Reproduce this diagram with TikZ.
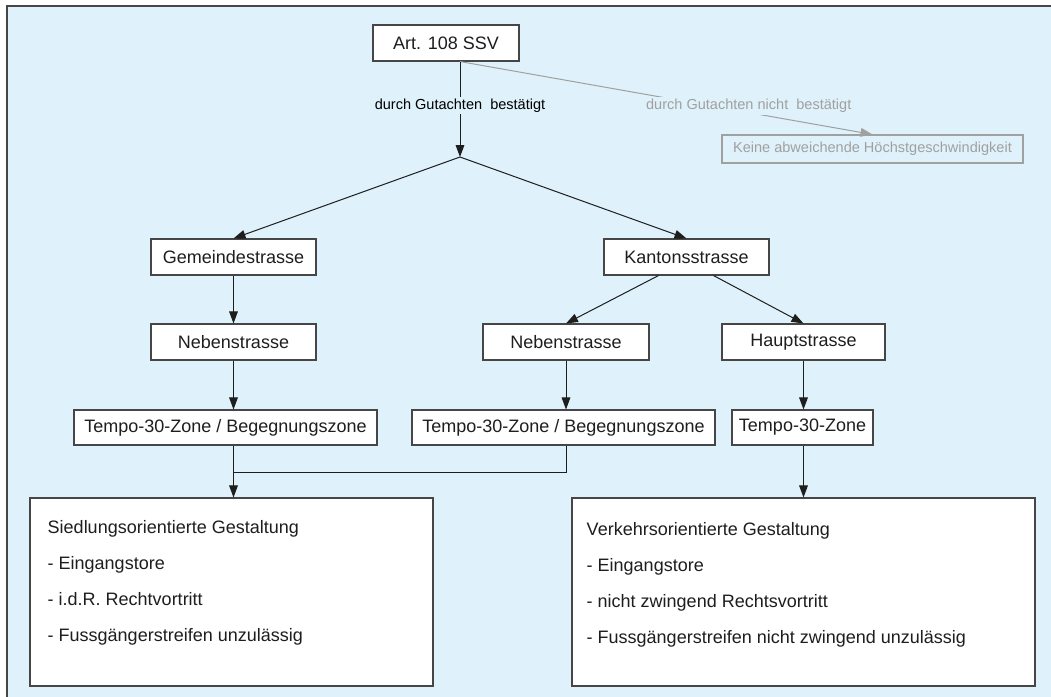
\documentclass[tikz,border=0pt]{standalone}
\usepackage{fontspec}
\setmainfont{Liberation Sans}
\usepackage{tikz}
\usetikzlibrary{arrows.meta, positioning, calc}

\definecolor{bgblue}{RGB}{223,241,250}
\definecolor{linegray}{RGB}{160,160,160}
\definecolor{boxline}{RGB}{70,70,70}
\definecolor{ink}{RGB}{30,30,30}

\begin{document}
\begin{tikzpicture}[x=0.75pt, y=-0.75pt,
  sz/.style 2 args={minimum width=#1*0.75pt, minimum height=#2*0.75pt},
  box/.style={draw=boxline, fill=white, line width=0.8pt, inner sep=0pt, text=ink,
    font=\fontsize{13.5}{16}\selectfont},
  greybox/.style={draw=linegray, line width=0.8pt, inner sep=0pt, text=linegray,
    font=\fontsize{10.9}{13}\selectfont},
  listtext/.style={align=left, inner sep=0pt, text=ink, font=\fontsize{13.5}{27}\selectfont},
  lbl/.style={fill=bgblue, inner sep=1.5pt, font=\fontsize{10.9}{13}\selectfont},
  conn/.style={draw=ink, line width=0.75pt},
  arr/.style={conn, -{Triangle[length=9pt, width=6.5pt]}},
  greyarr/.style={draw=linegray, line width=0.75pt, -{Triangle[length=9pt, width=6.5pt]}}]

%//page and light blue panel
\useasboundingbox (0,0) rectangle (1051,697);
\fill[white] (0,0) rectangle (1051,697);
\fill[bgblue] (7,6) rectangle (1051,697);
\draw[boxline, line width=0.9pt] (7,697) -- (7,6) -- (1051,6);

%//boxes
\node[box, sz={146}{36}] (art) at (446,43) {Art. 108 SSV};
\node[greybox, sz={301}{28}] (keine) at (872.5,149) {Keine abweichende Höchstgeschwindigkeit};

\node[box, sz={165}{36}] (gemeinde) at (233.5,257) {Gemeindestrasse};
\node[box, sz={165}{36}] (kanton) at (686.5,257) {Kantonsstrasse};

\node[box, sz={165}{36}] (nebenL) at (233.5,342) {Nebenstrasse};
\node[box, sz={166}{36}] (nebenM) at (566,342) {Nebenstrasse};
\node[box, sz={163}{36}] (haupt) at (803.5,342) {Hauptstrasse};

\node[box, sz={303}{35}] (tempoL) at (225.5,427.5) {Tempo-30-Zone / Begegnungszone};
\node[box, sz={303}{35}] (tempoM) at (563.5,427.5) {Tempo-30-Zone / Begegnungszone};
\node[box, sz={141}{35}] (tempoR) at (802.5,427.5) {Tempo-30-Zone};

\node[box, sz={403}{188}] (siedlung) at (231.5,592) {};
\node[box, sz={463}{188}] (verkehr) at (803.5,592) {};

\node[listtext, anchor=north west] (siedlungtxt) at ([shift={(18,23)}]siedlung.north west)
  {Siedlungsorientierte Gestaltung\\- Eingangstore\\- i.d.R. Rechtvortritt\\- Fussgängerstreifen unzulässig};
\node[listtext, anchor=north west] (verkehrtxt) at ([shift={(15,25)}]verkehr.north west)
  {Verkehrsorientierte Gestaltung\\- Eingangstore\\- nicht zwingend Rechtsvortritt\\- Fussgängerstreifen nicht zwingend unzulässig};

%//connectors
\coordinate (split) at (460,157);
\coordinate (top) at (art.south -| split);
\coordinate (merge) at (233.5,472);

\draw[greyarr] (top) -- node[lbl, text=linegray, pos=.7, yshift=5pt] (nein) {durch Gutachten nicht~ bestätigt} (keine.north);
\draw[arr] (top) -- node[lbl, pos=.46] (ja) {durch Gutachten~ bestätigt} (split);

\draw[arr] (split) -- (gemeinde.north);
\draw[arr] (split) -- (kanton.north);

\draw[arr] (gemeinde) -- (nebenL);
\draw[arr] ([shift={(-28,0)}]kanton.south) -- (nebenM.north);
\draw[arr] ([shift={(27,0)}]kanton.south) -- (haupt.north);

\draw[arr] (nebenL.south) -- (nebenL.south |- tempoL.north);
\draw[arr] (nebenM.south) -- (nebenM.south |- tempoM.north);
\draw[arr] (haupt.south) -- (haupt.south |- tempoR.north);

\draw[conn] (nebenM.south |- tempoM.south) |- (merge);
\draw[arr] (merge |- tempoL.south) -- (merge |- siedlung.north);
\draw[arr] (haupt.south |- tempoR.south) -- (haupt.south |- verkehr.north);
\end{tikzpicture}
\end{document}
